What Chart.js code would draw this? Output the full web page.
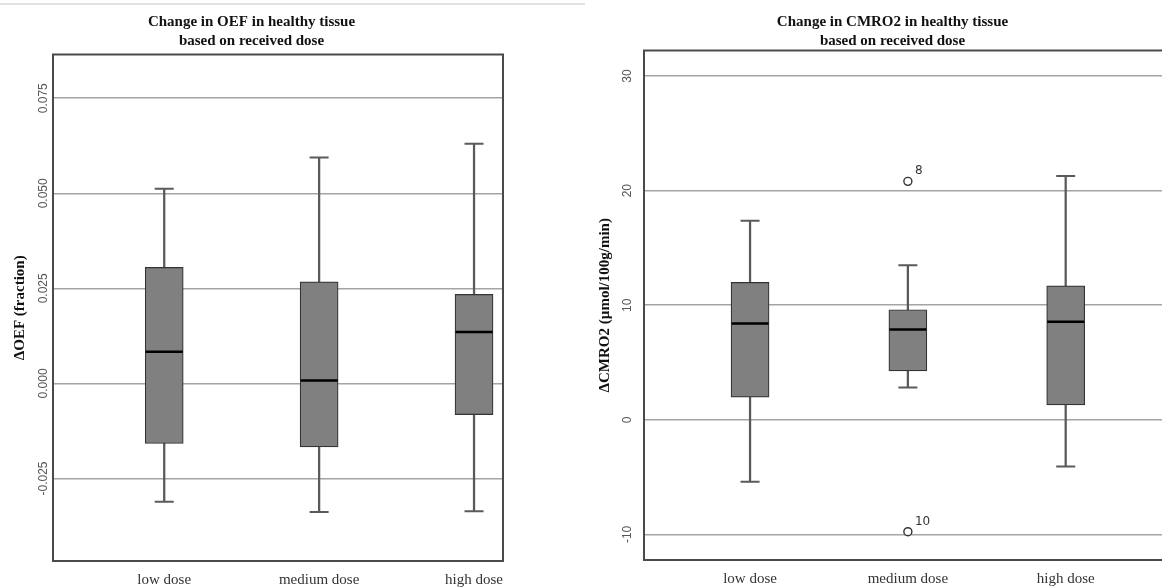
<!DOCTYPE html>
<html>
<head>
<meta charset="utf-8">
<script src="https://cdn.jsdelivr.net/npm/chart.js@4"></script>
<style>
  html, body { margin: 0; padding: 0; background: #fff; }
  #page { position: relative; width: 1162px; height: 588px; overflow: hidden; }
  #rule { position: absolute; left: 0; top: 3px; width: 585px; height: 2px; background: #e2e2e2; }
  canvas { position: absolute; top: 0; }
  #oefChart { left: 0; }
  #cmroChart { left: 585px; }
</style>
</head>
<body>
<div id="page">
  <div id="rule"></div>
  <canvas id="oefChart" width="512" height="588"></canvas>
  <canvas id="cmroChart" width="620" height="588"></canvas>
</div>
<script>
// Dose groups on the x axis
const doseGroups = ['low dose', 'medium dose', 'high dose'];

// OEF change (fraction): whiskers, quartiles and median per group
const oefMin    = [-0.0311, -0.0338, -0.0336];
const oefQ1     = [-0.0158, -0.0167, -0.0082];
const oefMedian = [0.0083, 0.0008, 0.0135];
const oefQ3     = [0.0305, 0.0267, 0.0234];
const oefMax    = [0.0512, 0.0594, 0.0630];
const oefTicks  = [-0.025, 0, 0.025, 0.05, 0.075];

// CMRO2 change (umol/100g/min)
const cmroMin    = [-5.41, 2.82, -4.08];
const cmroQ1     = [1.98, 4.28, 1.31];
const cmroMedian = [8.41, 7.89, 8.56];
const cmroQ3     = [11.99, 9.61, 11.70];
const cmroMax    = [17.38, 13.48, 21.28];
const cmroTicks  = [-10, 0, 10, 20, 30];

// outliers (case numbers shown next to the circles)
const cmroOutlierGroup = [1, 1];
const cmroOutlierValue = [20.81, -9.76];
const cmroOutlierCase  = ['8', '10'];

const serif = "'Liberation Serif', 'Times New Roman', serif";
const narrow = "'Liberation Sans Narrow', 'Liberation Sans', Arial, sans-serif";

// frame around the plot area + rotated y tick labels + outlier case numbers
const boxPlotExtras = {
    id: 'boxPlotExtras',
    afterDatasetsDraw(chart, args, opts) {
        const ctx = chart.ctx;
        const area = chart.chartArea;
        ctx.save();
        ctx.strokeStyle = '#4a4a4a';
        ctx.lineWidth = 2;
        ctx.strokeRect(area.left, area.top, area.right - area.left, area.bottom - area.top);

        // y tick labels, read bottom to top
        const y = chart.scales.y;
        ctx.fillStyle = '#555';
        ctx.font = '12px ' + narrow;
        ctx.textAlign = 'center';
        ctx.textBaseline = 'middle';
        y.ticks.forEach(t => {
            ctx.save();
            ctx.translate(area.left - opts.tickOffset, y.getPixelForValue(t.value));
            ctx.rotate(-Math.PI / 2);
            ctx.fillText(opts.format(t.value), 0, 0);
            ctx.restore();
        });

        // case labels for outliers
        chart.data.datasets.forEach((ds, i) => {
            if (!ds.caseLabels) return;
            const meta = chart.getDatasetMeta(i);
            ctx.font = '12px "DejaVu Sans", sans-serif';
            ctx.fillStyle = '#333';
            ctx.textAlign = 'left';
            ctx.textBaseline = 'alphabetic';
            meta.data.forEach((pt, j) => {
                ctx.fillText(ds.caseLabels[j], pt.x + 7, pt.y - 7);
            });
        });
        ctx.restore();
    }
};

function boxDatasets(min, q1, median, q3, max, outGroup, outValue, outCase) {
    const sets = [
        {
            type: 'bar',
            data: doseGroups.map((g, i) => ({ x: i, y: [min[i], max[i]] })),
            backgroundColor: '#5a5a5a',
            barThickness: 1.6,
            grouped: false,
            order: 5
        },
        {
            type: 'bar',
            data: doseGroups.map((g, i) => ({ x: i, y: [q1[i], q3[i]] })),
            backgroundColor: '#808080',
            borderColor: '#333',
            borderWidth: 1.2,
            borderSkipped: false,
            barThickness: 38,
            grouped: false,
            order: 4
        },
        {
            type: 'scatter',
            data: doseGroups.flatMap((g, i) => [{ x: i, y: min[i] }, { x: i, y: max[i] }]),
            pointStyle: 'line',
            radius: 9.5,
            borderColor: '#5a5a5a',
            borderWidth: 2,
            order: 3
        },
        {
            type: 'scatter',
            data: doseGroups.map((g, i) => ({ x: i, y: median[i] })),
            pointStyle: 'line',
            radius: 18.5,
            borderColor: '#000',
            borderWidth: 2.5,
            order: 2
        }
    ];
    if (outGroup) {
        sets.push({
            type: 'scatter',
            data: outGroup.map((g, i) => ({ x: g, y: outValue[i] })),
            caseLabels: outCase,
            pointStyle: 'circle',
            radius: 4,
            backgroundColor: '#fff',
            borderColor: '#333',
            borderWidth: 1.4,
            order: 1
        });
    }
    return sets;
}

function makeChart(el, cfg) {
    return new Chart(el, {
        type: 'bar',
        data: { datasets: cfg.datasets },
        plugins: [boxPlotExtras],
        options: {
            responsive: false,
            animation: false,
            events: [],
            layout: {
                autoPadding: false,
                padding: { left: 0, right: cfg.padRight, top: 0, bottom: 0 }
            },
            plugins: {
                legend: { display: false },
                tooltip: { enabled: false },
                title: {
                    display: true,
                    text: cfg.title,
                    color: '#111',
                    font: { family: serif, size: 15, weight: 'bold', lineHeight: 1.25 },
                    padding: { top: 13, bottom: cfg.titleGap }
                },
                boxPlotExtras: { tickOffset: cfg.tickOffset, format: cfg.format }
            },
            scales: {
                x: {
                    type: 'linear',
                    min: cfg.xMin,
                    max: cfg.xMax,
                    offset: false,
                    grid: { display: false },
                    border: { display: false },
                    afterBuildTicks: s => { s.ticks = doseGroups.map((g, i) => ({ value: i })); },
                    afterFit: s => {
                        s.height = cfg.xHeight;
                        s.paddingLeft = 0;
                        s.paddingRight = 0;
                    },
                    ticks: {
                        callback: v => doseGroups[v],
                        color: '#333',
                        font: { family: serif, size: 15 },
                        padding: 2,
                        maxRotation: 0
                    }
                },
                y: {
                    type: 'linear',
                    min: cfg.yMin,
                    max: cfg.yMax,
                    afterBuildTicks: s => { s.ticks = cfg.ticks.map(v => ({ value: v })); },
                    afterFit: s => {
                        s.width = cfg.yWidth;
                        s.paddingTop = 0;
                        s.paddingBottom = 0;
                    },
                    grid: { color: '#a4a4a4', lineWidth: 1.5, drawTicks: false },
                    border: { display: false },
                    ticks: { display: false },
                    title: {
                        display: true,
                        text: cfg.yTitle,
                        color: '#111',
                        font: { family: serif, size: 15, weight: 'bold', lineHeight: 1.2 },
                        padding: { top: 11, bottom: 0 }
                    }
                }
            }
        }
    });
}

makeChart(document.getElementById('oefChart'), {
    title: ['Change in OEF in healthy tissue', 'based on received dose'],
    yTitle: '\u0394OEF (fraction)',
    datasets: boxDatasets(oefMin, oefQ1, oefMedian, oefQ3, oefMax),
    ticks: oefTicks,
    format: v => v.toFixed(3),
    yMin: -0.0467, yMax: 0.0865,
    xMin: -0.718, xMax: 2.187,
    yWidth: 53, xHeight: 27, padRight: 9,
    titleGap: 4, tickOffset: 9
});

makeChart(document.getElementById('cmroChart'), {
    title: ['Change in CMRO2 in healthy tissue', 'based on received dose'],
    yTitle: '\u0394CMRO2 (\u00b5mol/100g/min)',
    datasets: boxDatasets(cmroMin, cmroQ1, cmroMedian, cmroQ3, cmroMax,
        cmroOutlierGroup, cmroOutlierValue, cmroOutlierCase),
    ticks: cmroTicks,
    format: v => String(v),
    yMin: -12.23, yMax: 32.23,
    xMin: -0.672, xMax: 2.851,
    yWidth: 59, xHeight: 28, padRight: 5,
    titleGap: 0, tickOffset: 16
});
</script>
</body>
</html>
